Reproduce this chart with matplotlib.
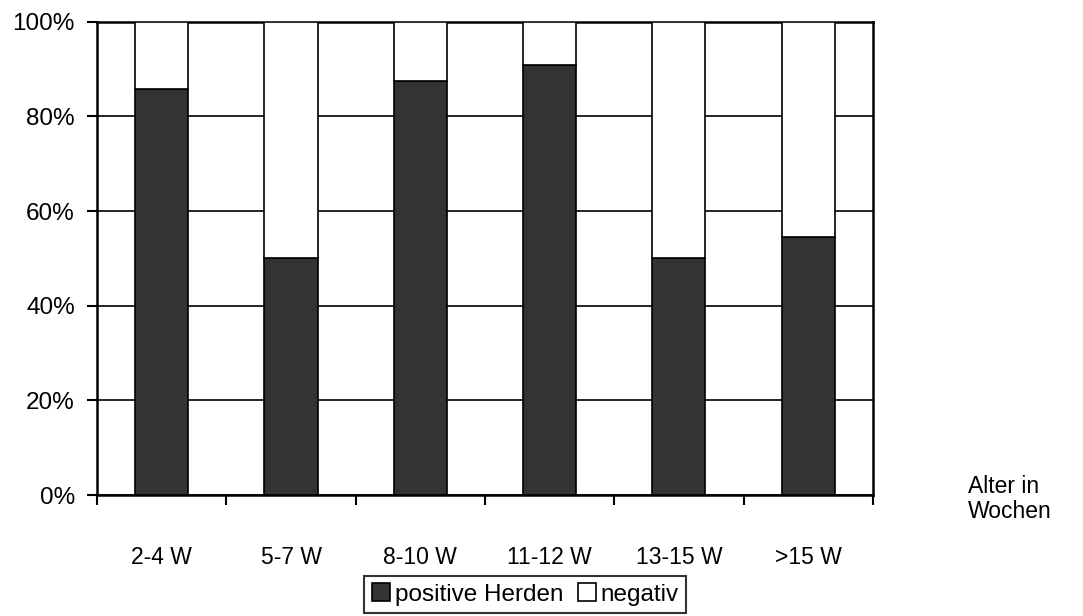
import numpy as np
import matplotlib.pyplot as plt
from matplotlib.ticker import FixedLocator, PercentFormatter

plt.rcParams['font.family'] = ['Liberation Sans', 'DejaVu Sans']

# Anteil positiver / negativer Herden je Altersgruppe (in %)
gruppen = ['2-4 W', '5-7 W', '8-10 W', '11-12 W', '13-15 W', '>15 W']
positiv = [85.7, 50.0, 87.5, 90.9, 50.0, 54.5]
negativ = [14.3, 50.0, 12.5, 9.1, 50.0, 45.5]

fig = plt.figure(figsize=(10.83, 6.16), dpi=100)
ax = fig.add_axes([0.0896, 0.1964, 0.7164, 0.7684])

x = np.arange(len(gruppen))
ax.bar(x, positiv, width=0.41, color='#333333', edgecolor='black',
       linewidth=1.2, label='positive Herden', zorder=3)
ax.bar(x, negativ, width=0.41, bottom=positiv, color='white',
       edgecolor='black', linewidth=1.2, label='negativ', zorder=3)

ax.set_xlim(-0.5, len(gruppen) - 0.5)
ax.set_ylim(0, 100)
ax.set_yticks([0, 20, 40, 60, 80, 100])
ax.yaxis.set_major_formatter(PercentFormatter(decimals=0))
ax.yaxis.grid(True, color='black', linewidth=1.2, zorder=0)

# Kategorien mittig, Striche an den Grenzen
ax.set_xticks(x)
ax.set_xticklabels(gruppen)
ax.xaxis.set_minor_locator(FixedLocator(np.arange(-0.5, len(gruppen), 1)))
ax.tick_params(axis='x', which='major', length=0, pad=45, labelsize=16.5)
ax.tick_params(axis='x', which='minor', length=7, width=1.5, direction='out')
ax.tick_params(axis='y', length=7, width=1.5, labelsize=17.5, pad=9)
for lbl in ax.get_xticklabels():
    lbl.set_verticalalignment('center')

for s in ax.spines.values():
    s.set_linewidth(1.8)
    s.set_color('black')

fig.text(0.894, 0.19, 'Alter in\nWochen', fontsize=16.5, ha='left',
         va='center', linespacing=1.1)

leg = fig.legend(loc='center', bbox_to_anchor=(0.485, 0.035), ncol=2,
                 fontsize=17.5, frameon=True, fancybox=False, edgecolor='black',
                 handlelength=0.75, handleheight=0.75, handletextpad=0.2,
                 columnspacing=0.6, borderpad=0.3, borderaxespad=0)
leg.get_frame().set_linewidth(1.5)

fig.savefig('out.png', dpi=100)
